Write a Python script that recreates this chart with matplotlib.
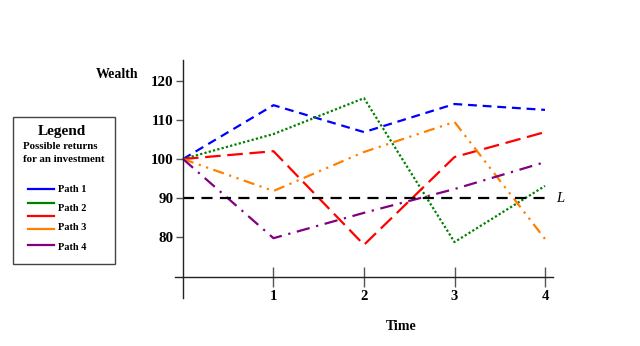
import matplotlib
matplotlib.use("Agg")
import matplotlib.pyplot as plt
from matplotlib.lines import Line2D
from matplotlib.patches import Rectangle

plt.rcParams['font.family'] = ['Liberation Serif', 'DejaVu Serif']

# data
time = [0, 1, 2, 3, 4]
path1 = [100, 113.8, 106.9, 114.1, 112.6]
path2_green = [100, 106.4, 115.6, 78.7, 93.1]
path2_red = [100, 102.0, 78.0, 100.5, 106.9]
path3 = [100, 91.8, 101.8, 109.5, 79.5]
path4 = [100, 79.7, 86.2, 92.3, 99.2]
level_L = 90
yticks = [80, 90, 100, 110, 120]
xticks = [1, 2, 3, 4]
legend_labels = ['Path 1', 'Path 2', 'Path 3', 'Path 4']

series = [
    (path1, '#0000ff', (0, (4, 2.6))),
    (path2_green, '#008000', (0, (1, 1))),
    (path2_red, '#ff0000', (0, (7, 3))),
    (path3, '#ff8000', (0, (5, 2.5, 1, 2.5, 1, 2.5))),
    (path4, '#800080', (0, (6, 3, 1, 3))),
]

fig = plt.figure(figsize=(6.4, 3.46), dpi=100)
ax = fig.add_axes([150 / 640, 46 / 346, 430 / 640, 250 / 346])
ax.set_xlim(-0.3646, 4.3867)
ax.set_ylim(63.85, 127.95)
ax.patch.set_visible(False)

for vals, col, ls in series:
    ax.plot(time, vals, color=col, lw=1.6, linestyle=ls)

ax.plot([0, 4.03], [level_L, level_L], color='black', lw=1.6, linestyle=(0, (5, 3.3)))
ax.text(4.12, level_L, 'L', style='italic', fontsize=10.5, va='center', ha='left')

# axes like a hand drawn diagram
for s in ['top', 'right']:
    ax.spines[s].set_visible(False)
ax.spines['left'].set_position(('data', 0))
ax.spines['bottom'].set_position(('data', 69.74))
ax.spines['left'].set_bounds(64.36, 125.4)
ax.spines['bottom'].set_bounds(-0.088, 4.088)
ax.spines['left'].set_linewidth(1)
ax.spines['bottom'].set_linewidth(1)
ax.spines['left'].set_color('#222222')
ax.spines['bottom'].set_color('#222222')

ax.set_yticks(yticks)
ax.set_xticks(xticks)
ax.tick_params(axis='y', direction='out', length=5, width=1, pad=2, labelsize=10.8, color='#555555')
ax.tick_params(axis='x', direction='inout', length=14.5, width=1, pad=2, labelsize=10.5, color='#555555')
for lbl in ax.get_xticklabels() + ax.get_yticklabels():
    lbl.set_fontweight('bold')

fig.text(117 / 640, 1 - 75 / 346, 'Wealth', fontsize=10, fontweight='bold', ha='center', va='center')
fig.text(401 / 640, 1 - 326 / 346, 'Time', fontsize=10, fontweight='bold', ha='center', va='center')

# legend box
fig.patches.append(Rectangle((13 / 640, 1 - 264 / 346), 102 / 640, 147 / 346,
                             transform=fig.transFigure, fill=False, edgecolor='#444444', lw=1))
fig.text(62 / 640, 1 - 131 / 346, 'Legend', fontsize=11, fontweight='bold', ha='center', va='center')
fig.text(23 / 640, 1 - 146 / 346, 'Possible returns', fontsize=7.8, fontweight='bold', ha='left', va='center')
fig.text(23 / 640, 1 - 160 / 346, 'for an investment', fontsize=7.8, fontweight='bold', ha='left', va='center')
line_y = [189, 203, 216, 229, 245]
for (vals, col, ls), yy in zip(series, line_y):
    fig.lines.append(Line2D([28 / 640, 54 / 640], [1 - yy / 346, 1 - yy / 346],
                            transform=fig.transFigure, color=col, lw=1.6))
label_y = [189, 209, 228, 248]
for lab, yy in zip(legend_labels, label_y):
    fig.text(58 / 640, 1 - yy / 346, lab, fontsize=7.5, fontweight='bold', ha='left', va='center')

fig.savefig('out.png', dpi=100)
